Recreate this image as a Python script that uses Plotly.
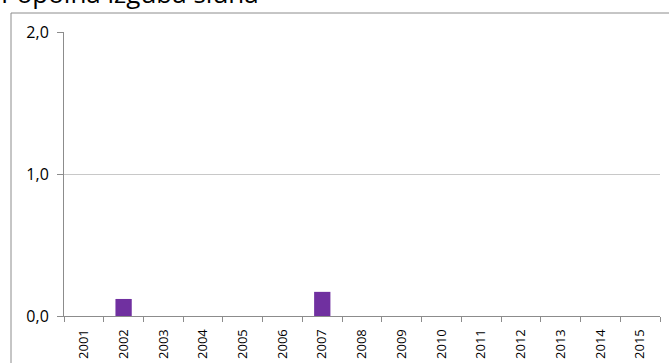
import plotly.graph_objects as go

years = [str(y) for y in range(2001, 2016)]
values = [0, 0.12, 0, 0, 0, 0, 0.17, 0, 0, 0, 0, 0, 0, 0, 0]
title = "Popolna izguba sluha"
y_ticks = [0, 1, 2]

fig = go.Figure(go.Bar(x=years, y=values, marker=dict(color="#7030A0", line=dict(width=0)),
                       width=0.41))

W, H = 669, 363
L, R, T, B = 64, 9, 32, 47
pw, ph = W - L - R, H - T - B

def px(x):
    return (x - L) / pw

def py(y):
    return (H - B - y) / ph

fig.update_layout(
    width=W, height=H,
    margin=dict(l=L, r=R, t=T, b=B),
    paper_bgcolor="white", plot_bgcolor="white",
    separators=", ",
    showlegend=False,
    font=dict(family="Open Sans", color="#000000"),
    xaxis=dict(type="category", tickangle=-90, tickfont=dict(size=13),
               showline=True, linecolor="#8C8C8C", linewidth=1,
               ticks="outside", ticklen=5, tickcolor="#8C8C8C", tickson="boundaries",
               showgrid=False, range=[-0.5, 14.5], ticklabelstandoff=7, automargin=False),
    yaxis=dict(range=[0, 2], tickvals=y_ticks, tickformat=".1f", tickfont=dict(size=16),
               showline=True, linecolor="#8C8C8C", linewidth=1,
               ticks="outside", ticklen=6, tickcolor="#8C8C8C",
               showgrid=True, gridcolor="#C8C8C8", gridwidth=1, zeroline=False,
               ticklabelstandoff=5, automargin=False),
    shapes=[dict(type="rect", xref="paper", yref="paper",
                 x0=px(11), x1=px(680), y0=py(380), y1=py(13),
                 line=dict(color="#8C8C8C", width=1), fillcolor="rgba(0,0,0,0)", layer="below")],
    annotations=[dict(text=title, xref="paper", yref="paper", x=px(-1), y=py(5),
                      xanchor="left", yanchor="bottom", showarrow=False,
                      yshift=-8,
                      font=dict(size=26, color="#000000", family="Open Sans"))],
)

fig.write_html("out.html")
